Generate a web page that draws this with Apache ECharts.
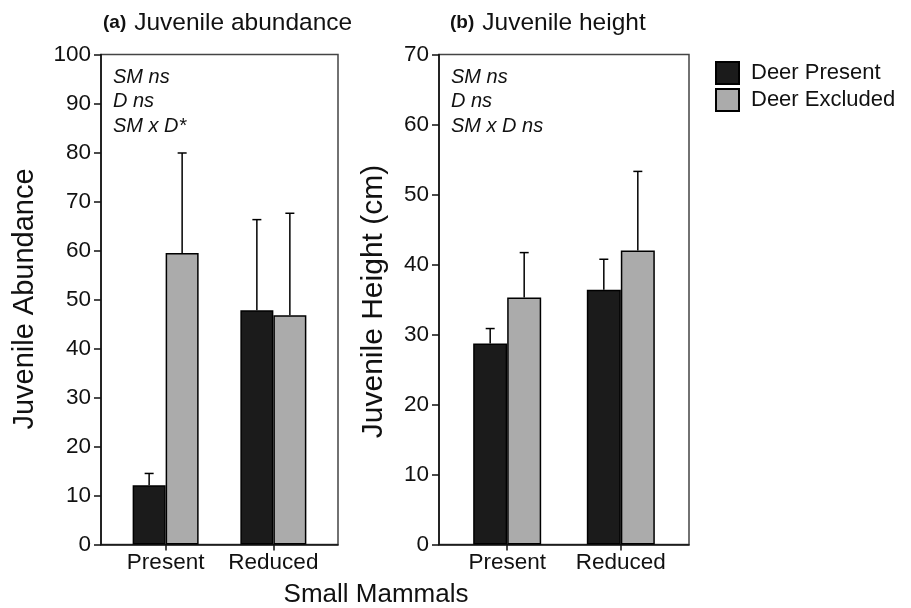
<!DOCTYPE html>
<html>
<head>
<meta charset="utf-8">
<script src="https://cdn.jsdelivr.net/npm/echarts@6/dist/echarts.min.js"></script>
<style>
  html, body { margin: 0; padding: 0; background: #fff; }
  #chart { width: 911px; height: 608px; }
</style>
</head>
<body>
<div id="chart"></div>
<script>
// Small-mammal treatment levels on the x axis
const categories = ['Present', 'Reduced'];

// (a) Juvenile abundance: means and upper standard errors
const abundancePresent = [12.1, 47.8];
const abundancePresentErr = [2.4, 18.5];
const abundanceExcluded = [59.5, 46.8];
const abundanceExcludedErr = [20.4, 20.8];

// (b) Juvenile height (cm): means and upper standard errors
const heightPresent = [28.7, 36.4];
const heightPresentErr = [2.15, 4.35];
const heightExcluded = [35.3, 42.0];
const heightExcludedErr = [6.4, 11.3];

const abundanceTicks = { min: 0, max: 100, interval: 10 };
const heightTicks = { min: 0, max: 70, interval: 10 };

const FONT = '"Liberation Sans", Arial, Helvetica, sans-serif';
const INK = '#111';
const DARK = '#1b1b1b';
const LIGHT = '#ababab';
const BAR_W = [33, 34];

const chart = echarts.init(document.getElementById('chart'), null, { renderer: 'canvas' });

function toPoints(values) {
  return values.map((v, i) => [i + 1, v]);
}
function toErr(values, errs) {
  return values.map((v, i) => [i + 1, v, errs[i]]);
}

function xAxis(gridIndex) {
  return {
    gridIndex, type: 'value', min: 0.4, max: 2.6,
    axisLine: { show: true, onZero: false, lineStyle: { color: INK, width: 1.6 } },
    axisTick: { show: true, customValues: [1, 2], length: 6, lineStyle: { color: INK, width: 1.5 } },
    axisLabel: {
      customValues: [1, 2], formatter: v => categories[Math.round(v) - 1] || '',
      fontSize: 22.5, fontFamily: FONT, color: INK, margin: 7
    },
    splitLine: { show: false }
  };
}
function yAxis(gridIndex, t) {
  return {
    gridIndex, type: 'value', min: t.min, max: t.max, interval: t.interval,
    axisLine: { show: true, lineStyle: { color: INK, width: 1.6 } },
    axisTick: { show: true, length: 7, lineStyle: { color: INK, width: 1.5 } },
    axisLabel: { fontSize: 22.5, fontFamily: FONT, color: INK, margin: 10 },
    splitLine: { show: false }
  };
}
function bars(name, gridIndex, values, color) {
  return {
    type: 'bar', name, xAxisIndex: gridIndex, yAxisIndex: gridIndex,
    data: toPoints(values), barWidth: BAR_W[gridIndex], barGap: '0%',
    itemStyle: { color, borderColor: '#000', borderWidth: 1.5 },
    emphasis: { disabled: true }, z: 2
  };
}
function errorBars(name, gridIndex, values, errs, side) {
  const half = BAR_W[gridIndex] / 2;
  return {
    type: 'custom', name, xAxisIndex: gridIndex, yAxisIndex: gridIndex,
    data: toErr(values, errs), z: 3, silent: true,
    renderItem(params, api) {
      const x = api.value(0), v = api.value(1), e = api.value(2);
      const base = api.coord([x, v]);
      const top = api.coord([x, v + e]);
      const cx = base[0] + side * half;
      const st = { stroke: '#000', lineWidth: 1.5 };
      return {
        type: 'group',
        children: [
          { type: 'line', shape: { x1: cx, y1: base[1], x2: cx, y2: top[1] }, style: st },
          { type: 'line', shape: { x1: cx - 4.5, y1: top[1], x2: cx + 4.5, y2: top[1] }, style: st }
        ]
      };
    }
  };
}

function statLines(x, lines) {
  return lines.map((t, i) => ({
    type: 'text', x, y: 77 + i * 24.5,
    style: { text: t, font: 'italic 20px ' + FONT, fill: INK, textVerticalAlign: 'middle' }
  }));
}
function panelTitle(x, tag, text) {
  return {
    type: 'text', x, y: 23,
    style: {
      text: '{t|' + tag + '}{m|' + text + '}',
      rich: {
        t: { fontSize: 19, fontWeight: 'bold', fontFamily: FONT, fill: INK },
        m: { fontSize: 24.5, fontFamily: FONT, fill: INK, padding: [0, 0, 0, 8] }
      },
      textVerticalAlign: 'middle'
    }
  };
}
function verticalTitle(x, y, text, size) {
  return {
    type: 'text', x, y, rotation: Math.PI / 2,
    style: { text, font: size + 'px ' + FONT, fill: INK, textAlign: 'center', textVerticalAlign: 'middle' }
  };
}

const option = {
  animation: false,
  backgroundColor: '#fff',
  grid: [
    { left: 101, top: 54.5, width: 237, height: 490, show: true, borderColor: '#444', borderWidth: 1.5, backgroundColor: 'transparent' },
    { left: 439, top: 54.5, width: 250, height: 490, show: true, borderColor: '#444', borderWidth: 1.5, backgroundColor: 'transparent' }
  ],
  xAxis: [xAxis(0), xAxis(1)],
  yAxis: [yAxis(0, abundanceTicks), yAxis(1, heightTicks)],
  legend: {
    data: ['Deer Present', 'Deer Excluded'],
    orient: 'vertical', left: 715, top: 61, padding: 0,
    itemWidth: 23, itemHeight: 22, itemGap: 3, icon: 'rect',
    selectedMode: false,
    textStyle: { fontSize: 22, fontFamily: FONT, color: INK, padding: [0, 0, 0, 7] }
  },
  series: [
    bars('Deer Present', 0, abundancePresent, DARK),
    bars('Deer Excluded', 0, abundanceExcluded, LIGHT),
    errorBars('Deer Present SE', 0, abundancePresent, abundancePresentErr, -1),
    errorBars('Deer Excluded SE', 0, abundanceExcluded, abundanceExcludedErr, 1),
    bars('Deer Present', 1, heightPresent, DARK),
    bars('Deer Excluded', 1, heightExcluded, LIGHT),
    errorBars('Deer Present SE', 1, heightPresent, heightPresentErr, -1),
    errorBars('Deer Excluded SE', 1, heightExcluded, heightExcludedErr, 1)
  ],
  graphic: [
    panelTitle(103, '(a)', 'Juvenile abundance'),
    panelTitle(450, '(b)', 'Juvenile height'),
    ...statLines(113, ['SM ns', 'D ns', 'SM x D*']),
    ...statLines(451, ['SM ns', 'D ns', 'SM x D ns']),
    verticalTitle(25, 299, 'Juvenile Abundance', 29),
    verticalTitle(374, 301.5, 'Juvenile Height (cm)', 30),
    {
      type: 'text', x: 376, y: 595,
      style: { text: 'Small Mammals', font: '26px ' + FONT, fill: INK, textAlign: 'center', textVerticalAlign: 'middle' }
    }
  ]
};

chart.setOption(option);
</script>
</body>
</html>
